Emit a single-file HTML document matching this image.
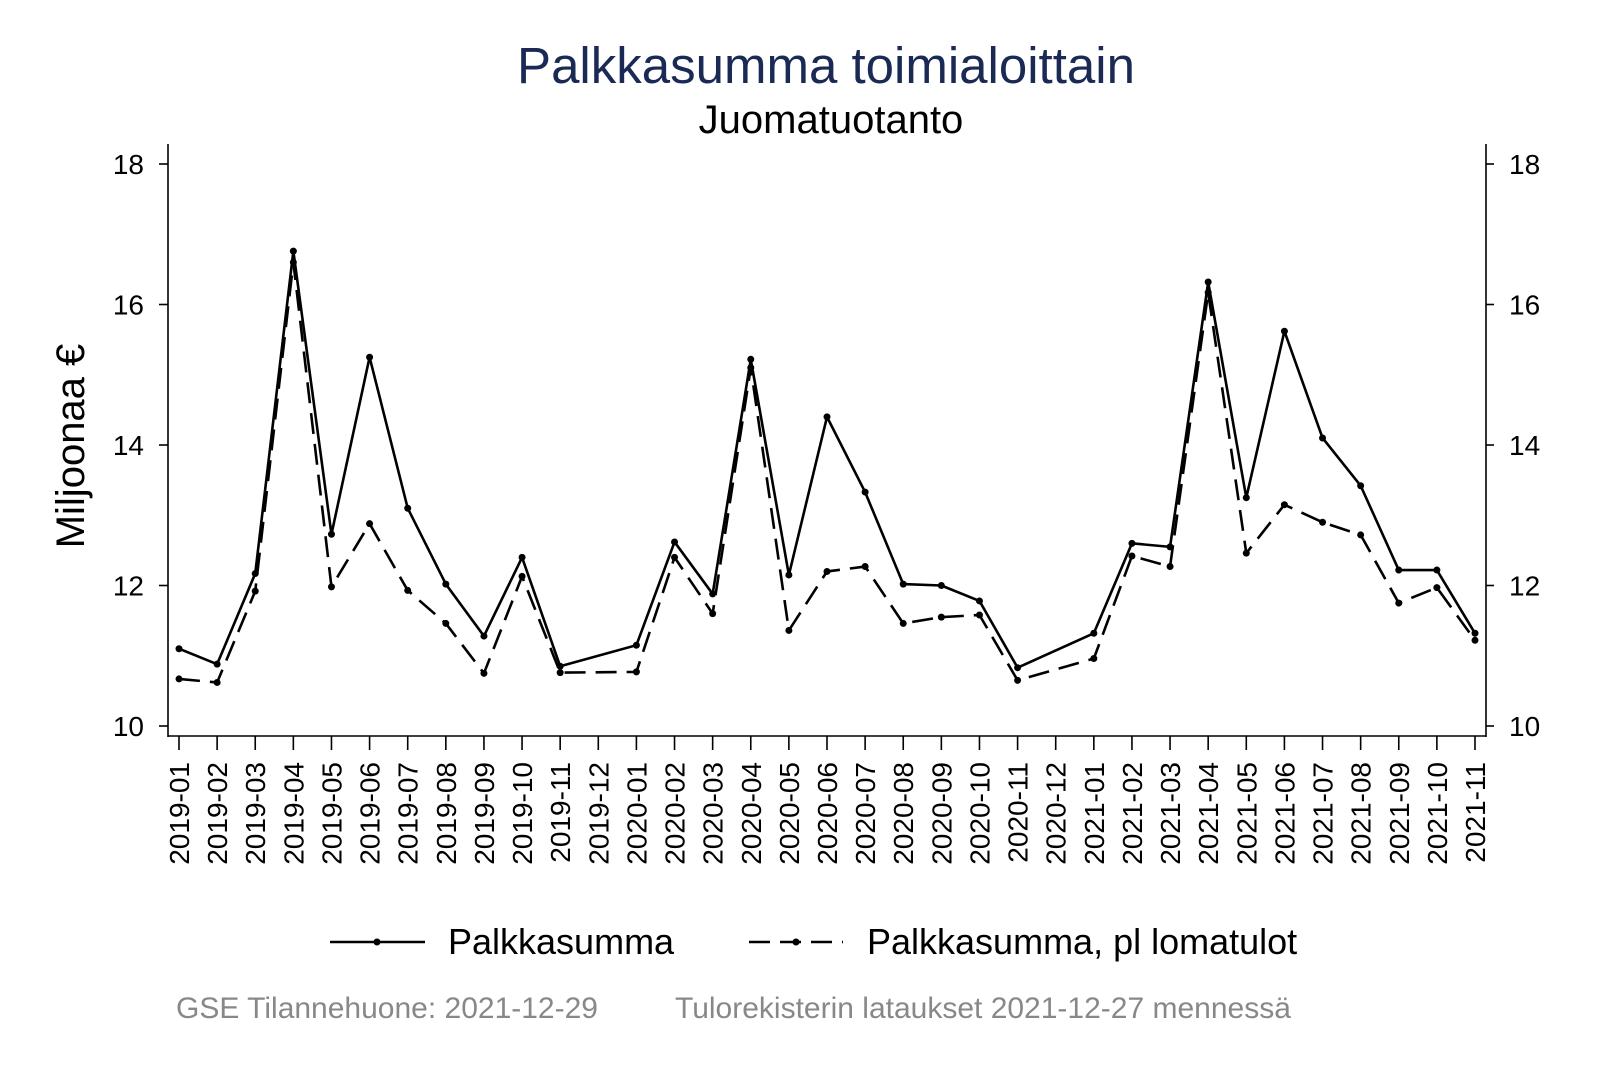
<!DOCTYPE html>
<html><head><meta charset="utf-8"><style>
body{margin:0;background:#fff;}
svg{display:block;font-family:"Liberation Sans",Arial,sans-serif;}
</style></head><body>
<svg id="s" width="1600" height="1067" xmlns="http://www.w3.org/2000/svg">
<rect width="1600" height="1067" fill="#fff"/>
<text x="826" y="83" font-size="51" fill="#1a2a55" text-anchor="middle">Palkkasumma toimialoittain</text>
<text x="831" y="133" font-size="40" fill="#000" text-anchor="middle">Juomatuotanto</text>
<text transform="translate(84,446) rotate(-90)" font-size="40" text-anchor="middle">Miljoonaa €</text>
<g id="g" stroke="#000" fill="none"></g>
<g id="t" font-size="28" fill="#000"></g>
<line x1="330" y1="942" x2="425" y2="942" stroke="#000" stroke-width="2.5"/>
<circle cx="377" cy="942" r="3.5" fill="#000"/>
<text x="448" y="954" font-size="36">Palkkasumma</text>
<line x1="749" y1="942" x2="843" y2="942" stroke="#000" stroke-width="2.5" stroke-dasharray="21,10"/>
<circle cx="796" cy="942" r="3.5" fill="#000"/>
<text x="867" y="954" font-size="36">Palkkasumma, pl lomatulot</text>
<text x="176" y="1018" font-size="30" fill="#888">GSE Tilannehuone: 2021-12-29</text>
<text x="675" y="1018" font-size="30" fill="#888">Tulorekisterin lataukset 2021-12-27 mennessä</text>
</svg>
<script>
var g=document.getElementById('g'),t=document.getElementById('t'),NS="http://www.w3.org/2000/svg";
function el(p,n,a,txt){var e=document.createElementNS(NS,n);for(var k in a)e.setAttribute(k,a[k]);if(txt)e.textContent=txt;p.appendChild(e);return e;}
var X=function(i){return 179+i*1296/34},Y=function(v){return 726-(v-10)*70.25};
el(g,'line',{x1:168,y1:144,x2:168,y2:737,'stroke-width':1.6});
el(g,'line',{x1:1486,y1:144,x2:1486,y2:737,'stroke-width':1.6});
el(g,'line',{x1:168,y1:736,x2:1486,y2:736,'stroke-width':1.6});
for(var v=10;v<=18;v+=2){var y=Y(v);
el(g,'line',{x1:159,y1:y,x2:168,y2:y,'stroke-width':1.6});
el(g,'line',{x1:1486,y1:y,x2:1494,y2:y,'stroke-width':1.6});
el(t,'text',{x:144,y:y+10,'text-anchor':'end','font-size':28},''+v);
el(t,'text',{x:1509,y:y+10,'font-size':28},''+v);}
for(var i=0;i<35;i++){var x=X(i);var yr=2019+Math.floor(i/12),m=i%12+1;
el(g,'line',{x1:x,y1:736,x2:x,y2:750,'stroke-width':1.6});
el(t,'text',{transform:'translate('+(x+10)+',762) rotate(-90)','text-anchor':'end'},yr+'-'+(m<10?'0':'')+m);}
var a=[11.1,10.88,12.17,16.76,12.73,15.25,13.1,12.02,11.28,12.4,10.85,null,11.15,12.62,11.88,15.22,12.15,14.4,13.33,12.02,12.0,11.78,10.83,null,11.32,12.6,12.55,16.32,13.25,15.62,14.1,13.42,12.22,12.22,11.32];
var b=[10.67,10.62,11.92,16.6,11.98,12.88,11.93,11.46,10.75,12.13,10.76,null,10.77,12.4,11.6,15.1,11.36,12.2,12.27,11.46,11.55,11.58,10.65,null,10.96,12.42,12.27,16.17,12.46,13.15,12.9,12.72,11.75,11.97,11.22];
function series(d,dash){var p=[];d.forEach(function(v,i){if(v!=null)p.push(X(i)+','+Y(v));});
var at={points:p.join(' '),'stroke-width':2.6,'stroke-linejoin':'round'};if(dash)at['stroke-dasharray']='21,10';
el(g,'polyline',at);d.forEach(function(v,i){if(v!=null)el(g,'circle',{cx:X(i),cy:Y(v),r:3.5,fill:'#000',stroke:'none'});});}
series(b,true);series(a,false);
</script>
</body></html>
